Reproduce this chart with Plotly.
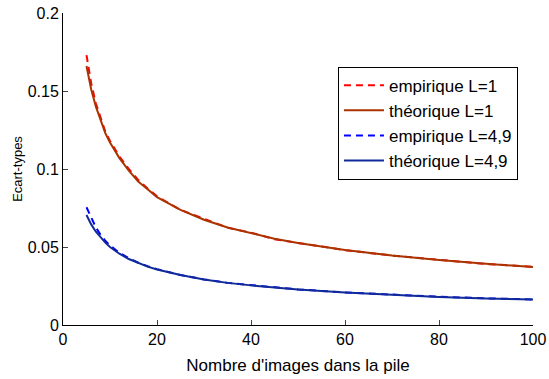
import plotly.graph_objects as go

n_vals = [5, 6, 7, 8, 9, 10, 12, 14, 16, 18, 20, 25, 30, 35, 40, 45, 50, 60, 70, 80, 90, 100]

emp_L1 = [0.173, 0.155, 0.142, 0.133, 0.124, 0.118, 0.108, 0.100, 0.093, 0.0875, 0.0825, 0.0738,
          0.0680, 0.0624, 0.0592, 0.0550, 0.0526, 0.0480, 0.0445, 0.0417, 0.0391, 0.0373]
theo_L1 = [0.166, 0.151, 0.140, 0.131, 0.123, 0.117, 0.107, 0.099, 0.092, 0.087, 0.082, 0.0738,
           0.0675, 0.0625, 0.0588, 0.0553, 0.0525, 0.0481, 0.0445, 0.0416, 0.0392, 0.0372]
emp_L49 = [0.0755, 0.0690, 0.0625, 0.0578, 0.0540, 0.0510, 0.0462, 0.0429, 0.0399, 0.0377, 0.0358,
           0.0320, 0.0292, 0.0270, 0.0255, 0.0240, 0.0228, 0.0209, 0.0194, 0.0181, 0.0171, 0.0164]
theo_L49 = [0.0705, 0.0645, 0.0598, 0.0560, 0.0528, 0.0500, 0.0457, 0.0423, 0.0396, 0.0374, 0.0356,
            0.0320, 0.0292, 0.0270, 0.0254, 0.0240, 0.0228, 0.0208, 0.0193, 0.0180, 0.0170, 0.0163]

x_ticks = [0, 20, 40, 60, 80, 100]
y_ticks = [0, 0.05, 0.1, 0.15, 0.2]
y_tick_labels = ["0", "0.05", "0.1", "0.15", "0.2"]

FONT = "Liberation Sans, Arial, Helvetica, sans-serif"
DASH = "7px,5px"

fig = go.Figure()
fig.add_trace(go.Scatter(x=n_vals, y=emp_L1, mode="lines", name="empirique L=1", legendgroup="a",
                         line=dict(color="#ff0000", width=2, dash=DASH)))
fig.add_trace(go.Scatter(x=n_vals, y=theo_L1, mode="lines", name="théorique L=1", legendgroup="b",
                         line=dict(color="#aa3300", width=2)))
fig.add_trace(go.Scatter(x=n_vals, y=emp_L49, mode="lines", name="empirique L=4,9", legendgroup="c",
                         line=dict(color="#0000ff", width=2, dash=DASH)))
fig.add_trace(go.Scatter(x=n_vals, y=theo_L49, mode="lines", name="théorique L=4,9", legendgroup="d",
                         line=dict(color="#102a99", width=2)))

fig.update_layout(
    width=549, height=379,
    margin=dict(l=63, r=16, t=13, b=54, autoexpand=False),
    paper_bgcolor="white", plot_bgcolor="white",
    font=dict(family=FONT, size=16, color="black"),
    showlegend=True,
    legend=dict(x=0.585, y=0.828, xanchor="left", yanchor="top",
                bordercolor="black", borderwidth=1, bgcolor="white",
                font=dict(size=17), tracegroupgap=5, traceorder="normal",
                itemwidth=40),
    xaxis=dict(range=[0, 100], tickvals=x_ticks, ticks="inside", ticklen=5,
               showline=True, linecolor="black", linewidth=1, showgrid=False,
               zeroline=False, mirror=False, automargin=False, ticklabeloverflow="allow",
               title=dict(text="Nombre d'images dans la pile", font=dict(size=17), standoff=11)),
    yaxis=dict(range=[0, 0.2], tickvals=y_ticks, ticktext=y_tick_labels, ticks="inside", ticklen=5,
               showline=True, linecolor="black", linewidth=1, showgrid=False,
               zeroline=False, mirror=False, automargin=False, ticklabeloverflow="allow",
               title=dict(text="Ecart-types", font=dict(size=13), standoff=2)),
)

# remove the browser's default 8px body margin so the figure sits at the window's corner
fig.write_html("out.html", config={"displayModeBar": False},
               post_script="document.body.style.margin='0';")
